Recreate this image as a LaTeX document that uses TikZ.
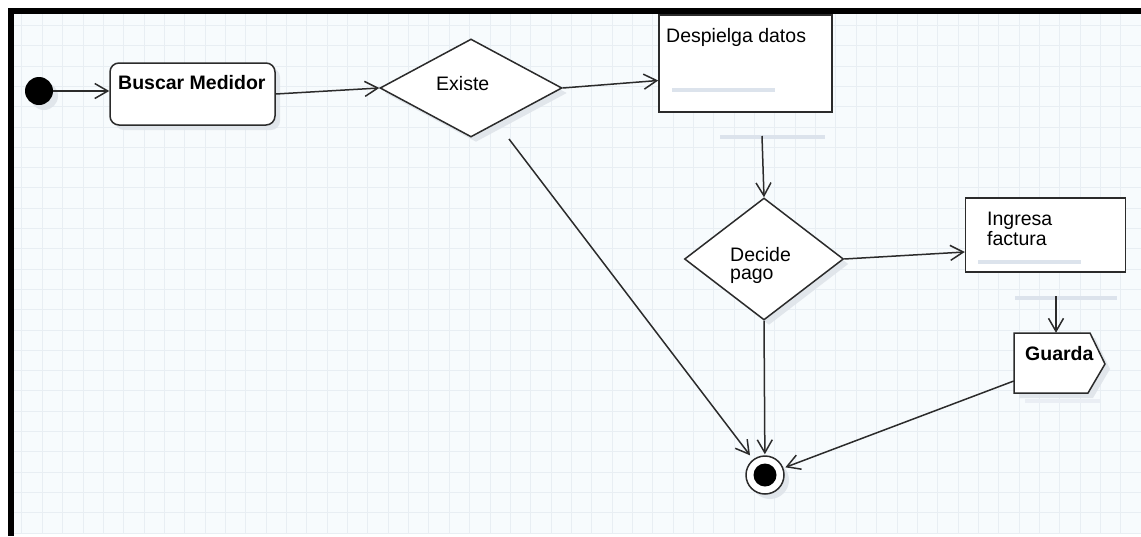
\documentclass[tikz,border=0pt]{standalone}
\usepackage{fontspec}
\setmainfont{Liberation Sans}
\usetikzlibrary{arrows.meta,shapes.geometric,shadows,calc}

\definecolor{paper}{HTML}{F7FBFD}
\definecolor{gridc}{HTML}{E8EEF3}
\definecolor{ink}{HTML}{2B2B2B}
\definecolor{ghost}{HTML}{DCE3EC}
\definecolor{shade}{HTML}{DFE4EA}

\tikzset{
  txt/.style={font=\fontsize{19.5}{22}\selectfont, text=black, inner sep=0pt, anchor=base west},
  txtb/.style={txt, font=\fontsize{19.5}{22}\selectfont\bfseries},
  soft/.style={drop shadow={shadow xshift=5pt, shadow yshift=-5pt, fill=shade, opacity=0.9}},
  actbox/.style={draw=ink, line width=1.5pt, fill=white, inner sep=0pt},
  choice/.style={diamond, draw=ink, line width=1.5pt, fill=white, inner sep=0pt, soft},
  flow/.style={draw=ink, line width=1.5pt, -{Straight Barb[length=13pt,width=15pt]}},
  ghostbar/.style={ghost, line width=3.5pt},
}

\begin{document}
\begin{tikzpicture}[x=1pt, y=-1pt]
  \useasboundingbox (0,0) rectangle (1141,536);
  \fill[white] (0,0) rectangle (1141,536);

  % drawing sheet with its grid
  \fill[paper] (14,14) rectangle (1141,534);
  \foreach \k in {1,...,55} {
    \draw[gridc, line width=1pt] ({1.6+20.35*\k},14) -- ({1.6+20.35*\k},534);
  }
  \foreach \k in {0,...,25} {
    \draw[gridc, line width=1pt] (14,{533-20.3*\k}) -- (1141,{533-20.3*\k});
  }

  % frame along the top and left edges
  \fill[black] (8,8) rectangle (1141,14);
  \fill[black] (8,8) rectangle (14,536);

  % initial node
  \node[circle, fill=black, minimum size=28, inner sep=0pt, soft] (start) at (39,91) {};

  % actions
  \node[actbox, rounded corners=9pt, minimum width=165, minimum height=62, soft] (buscar) at (192.5,94) {};
  \node[txtb] (buscarlbl) at (118,89) {Buscar Medidor};

  \node[actbox, minimum width=173, minimum height=97] (despliega) at (745.5,63.5) {};
  \node[txt] (desplbl) at (666,42) {Despielga datos};
  \draw[ghostbar] (672,90) -- (775,90);
  \draw[ghostbar] (720,137) -- (825,137);

  \node[actbox, minimum width=160, minimum height=74] (ingresa) at (1045.5,235) {};
  \node[txt] (inglbl1) at (987,225) {Ingresa};
  \node[txt] (inglbl2) at (987,245) {factura};
  \draw[ghostbar] (978,262) -- (1081,262);
  \draw[ghostbar] (1015,298) -- (1117,298);

  % decisions
  \node[choice, minimum width=182, minimum height=98] (existe) at (471,88) {};
  \node[txt] (existelbl) at (436,90) {Existe};

  \node[choice, minimum width=159, minimum height=122] (decide) at (764,259) {};
  \node[txt] (decidelbl1) at (730,261) {Decide};
  \node[txt] (decidelbl2) at (730,279) {pago};

  % send signal action
  \draw[draw=ink, line width=1.5pt, fill=white, line join=miter, soft]
    (1014,333) -- (1090,333) -- (1105,364) -- (1088,393) -- (1014,393) -- cycle;
  \node[minimum width=76, minimum height=60, inner sep=0pt] (guarda) at (1052,363) {};
  \node[txtb] (guardalbl) at (1025,360) {Guarda};
  \draw[ghostbar, ghost!60] (1025,401) -- (1100,401);

  % final node
  \node[circle, draw=ink, line width=1.5pt, fill=white, minimum size=38, inner sep=0pt, soft] (final) at (765,475) {};
  \node[circle, fill=black, minimum size=23, inner sep=0pt] (finaldot) at (final) {};

  % control flows
  \coordinate (dbelow) at (762,136);
  \coordinate (ibelow) at (1056,296);
  \coordinate (ebelow) at (509,139);

  \draw[flow] (start) -- (start -| buscar.west);
  \draw[flow] (buscar.east) -- (existe.west);
  \draw[flow] (existe.east) -- ([yshift=-17pt]despliega.west);
  \draw[flow] (dbelow) -- (decide.north);
  \draw[flow] (decide.east) -- ([yshift=-17pt]ingresa.west);
  \draw[flow] (ibelow) -- (ibelow |- guarda.north);
  \draw[flow, shorten >=5pt] (ebelow) -- (final);
  \draw[flow, shorten >=1pt] (decide.south) -- (final);
  \draw[flow, shorten >=2pt] ([yshift=-18pt]guarda.west) -- (final);
\end{tikzpicture}
\end{document}
